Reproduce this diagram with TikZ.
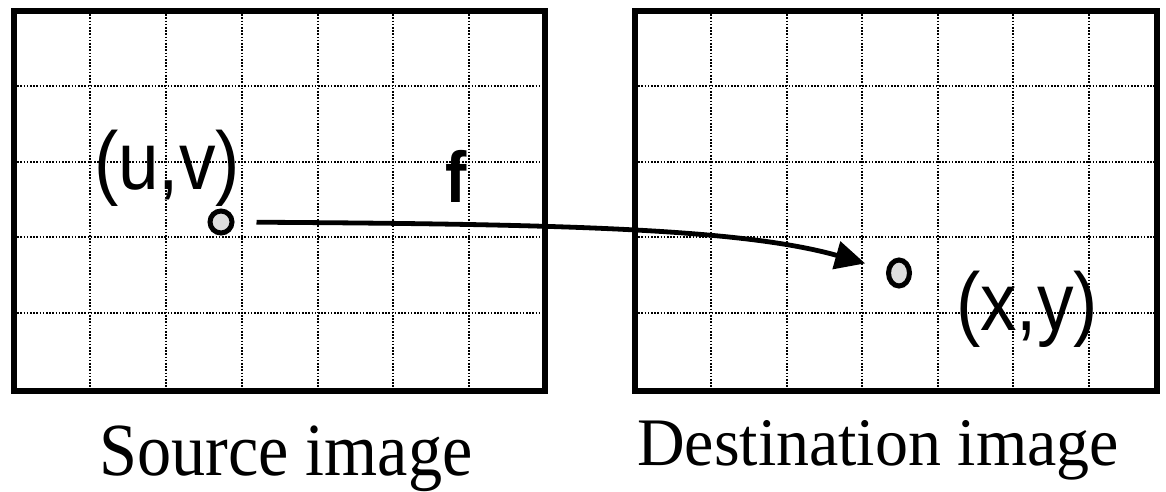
\documentclass[tikz,border=0pt]{standalone}
\usepackage{fontspec}
\setmainfont{Liberation Serif}
\newfontfamily\labelsans[FakeStretch=0.89]{Liberation Sans}
\newfontfamily\srccapfont[FakeStretch=0.91]{Liberation Serif}
\newfontfamily\dstcapfont[FakeStretch=0.97]{Liberation Serif}
\usetikzlibrary{arrows.meta,shapes.geometric}
\definecolor{dotgray}{RGB}{222,222,222}
\tikzstyle{frame}=[line width=2.9pt]
\tikzstyle{gridline}=[line width=0.75pt,dash pattern=on 0.8pt off 0.8pt]
\tikzstyle{arrow}=[-{Triangle[length=15pt,width=14pt]},line width=2.4pt]
\tikzstyle{pixel}=[draw,line width=2.5pt,fill=dotgray,inner sep=0pt]
\tikzstyle{coordlabel}=[font=\labelsans\fontsize{41}{41}\selectfont,inner sep=0pt]

\begin{document}
\begin{tikzpicture}[x=0.5pt,y=-0.5pt]
  \useasboundingbox (0,0) rectangle (1166,492);

  % source image grid
  \foreach \x in {90,166,242,318,393,469}
    \draw[gridline] (\x,11) -- (\x,391);
  \foreach \y in {86,162,237,313}
    \draw[gridline] (14,\y) -- (545,\y);
  \draw[frame] (14,11) rectangle (545,391);

  % destination image grid
  \foreach \x in {711,787,862,938,1013,1089}
    \draw[gridline] (\x,11) -- (\x,391);
  \foreach \y in {86,162,237,313}
    \draw[gridline] (635,\y) -- (1157,\y);
  \draw[frame] (635,11) rectangle (1157,391);

  \node[pixel,circle,minimum size=11pt] (src) at (221,222) {};
  \node[pixel,ellipse,minimum width=10.5pt,minimum height=13pt] (dst) at (899,273) {};

  \node[coordlabel] (uv) at (167,168.5) {(u,v)};
  \node[coordlabel] (xy) at (1027,309.5) {(x,y)};
  \node[font=\labelsans\bfseries\fontsize{36}{36}\selectfont,inner sep=0pt] (map) at (456,176) {f};

  \node[font=\srccapfont\fontsize{37.5}{37.5}\selectfont,anchor=base] (srccap) at (286,475) {Source image};
  \node[font=\dstcapfont\fontsize{34}{34}\selectfont,anchor=base] (dstcap) at (878,465) {Destination image};

  \draw[arrow,shorten <=11pt,shorten >=11pt] (src) .. controls (550,224) and (740,228) .. (dst);
\end{tikzpicture}
\end{document}
